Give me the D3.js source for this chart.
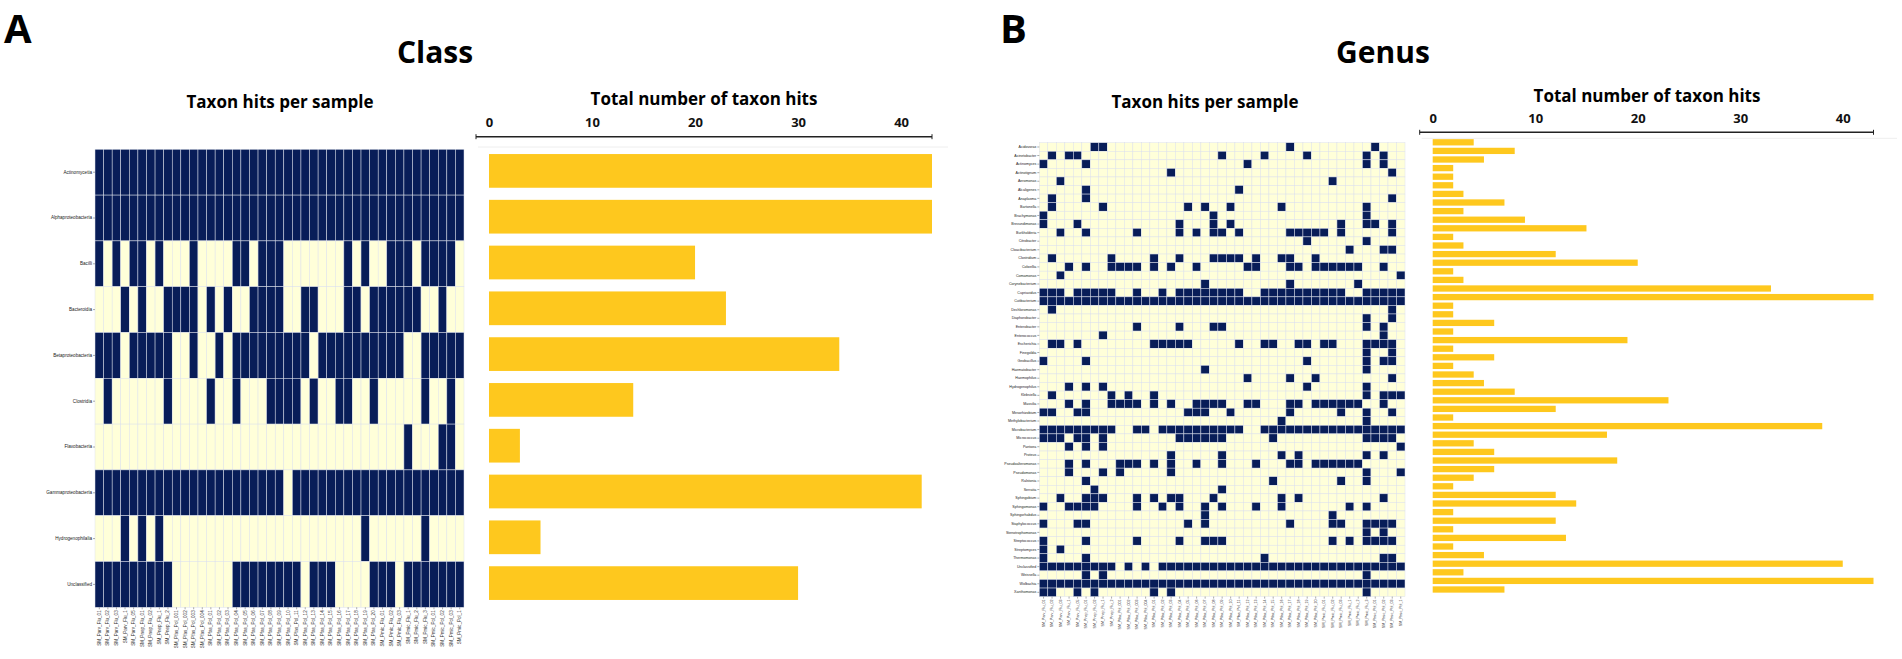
<!DOCTYPE html>
<html>
<head>
<meta charset="utf-8">
<script src="https://cdn.jsdelivr.net/npm/d3@7"></script>
<style>
body { margin: 0; background: #fff; }
svg { display: block; }
</style>
</head>
<body>
<svg width="1902" height="659"></svg>
<script>
// sample names (columns of both heatmaps)
const samples = [
  "SM_Parv_Flu_01","SM_Parv_Flu_02","SM_Parv_Flu_03","SM_Parv_Flu_1","SM_Parv_Flu_05",
  "SM_Pnep_Flu_01","SM_Pnep_Flu_02","SM_Pnep_Flu_1","SM_Pnep_Flu_2",
  "SM_Pfas_Pol_001","SM_Pfas_Pol_002","SM_Pfas_Pol_003","SM_Pfas_Pol_004",
  "SM_Pfas_Pol_01","SM_Pfas_Pol_02","SM_Pfas_Pol_03","SM_Pfas_Pol_04","SM_Pfas_Pol_05",
  "SM_Pfas_Pol_06","SM_Pfas_Pol_07","SM_Pfas_Pol_08","SM_Pfas_Pol_09","SM_Pfas_Pol_10",
  "SM_Pfas_Pol_11","SM_Pfas_Pol_12","SM_Pfas_Pol_13","SM_Pfas_Pol_14","SM_Pfas_Pol_15",
  "SM_Pfas_Pol_16","SM_Pfas_Pol_17","SM_Pfas_Pol_18","SM_Pfas_Pol_19","SM_Pfas_Pol_20",
  "SM_Pmic_Flu_01","SM_Pmic_Flu_02","SM_Pmic_Flu_03","SM_Pmic_Flu_1","SM_Pmic_Flu_2",
  "SM_Pmic_Flu_3","SM_Pmic_Pol_01","SM_Pmic_Pol_02","SM_Pmic_Pol_03","SM_Pmic_Pol_1"
];

const hitTicks = [0, 10, 20, 30, 40];

// class level: names + indices of samples with a hit
const classNames = ["Actinomycetia","Alphaproteobacteria","Bacilli","Bacteroidia","Betaproteobacteria",
  "Clostridia","Flavobacteria","Gammaproteobacteria","Hydrogenophilalia","Unclassified"];
const classHits = [
  [0,1,2,3,4,5,6,7,8,9,10,11,12,13,14,15,16,17,18,19,20,21,22,23,24,25,26,27,28,29,30,31,32,33,34,35,36,37,38,39,40,41,42],
  [0,1,2,3,4,5,6,7,8,9,10,11,12,13,14,15,16,17,18,19,20,21,22,23,24,25,26,27,28,29,30,31,32,33,34,35,36,37,38,39,40,41,42],
  [0,2,4,5,7,11,16,17,19,20,21,29,31,34,35,36,38,39,40,41],
  [3,5,8,9,10,11,13,15,18,19,20,21,24,25,29,30,32,33,34,35,36,37,40],
  [0,1,2,4,5,6,7,8,11,14,16,17,18,19,20,21,22,23,24,26,27,28,29,30,31,32,33,34,35,38,39,40,41,42],
  [1,8,13,16,20,21,22,23,25,28,29,32,38,41],
  [36,40,41],
  [0,1,2,3,4,5,6,7,8,9,10,11,12,13,14,15,16,17,18,19,20,21,23,24,25,26,27,28,29,30,31,32,33,34,35,36,37,38,39,40,41,42],
  [3,5,7,31,38],
  [0,1,2,3,4,5,6,7,8,16,17,18,19,20,21,22,23,25,26,27,32,33,34,36,37,38,39,40,41,42]
];

// genus level
const genusNames = ["Acidovorax","Acinetobacter","Actinomyces","Actinotignum","Aeromonas","Alcaligenes",
  "Anaplasma","Bartonella","Brachymonas","Brevundimonas","Burkholderia","Citrobacter","Cloacibacterium",
  "Clostridium","Colwellia","Comamonas","Corynebacterium","Cupriavidus","Cutibacterium","Dechloromonas",
  "Diaphorobacter","Enterobacter","Enterococcus","Escherichia","Finegoldia","Geobacillus","Haematobacter",
  "Haemophilus","Hydrogenophilus","Klebsiella","Massilia","Mesorhizobium","Methylobacterium",
  "Microbacterium","Micrococcus","Pantoea","Proteus","Pseudoalteromonas","Pseudomonas","Ralstonia",
  "Serratia","Sphingobium","Sphingomonas","Sphingorhabdus","Staphylococcus","Stenotrophomonas",
  "Streptococcus","Streptomyces","Thermomonas","Unclassified","Weissella","Wolbachia","Xanthomonas"];
const genusHits = [
  [6,7,29,39],
  [1,3,4,21,26,31,38,40],
  [0,5,24,38,40],
  [15,41],
  [2,34],
  [5,23],
  [1,5,41],
  [1,7,17,19,22,28,38],
  [0,20,38],
  [0,4,16,20,22,35,38,39,41],
  [2,5,11,16,18,20,21,23,29,30,31,32,33,35,41],
  [31,38],
  [36,40,41],
  [1,8,13,16,20,21,22,23,25,28,29,32],
  [3,5,8,9,10,11,13,15,18,24,25,29,30,32,33,34,35,36,37,40],
  [2,42],
  [19,29,37],
  [0,1,2,4,5,6,7,8,11,14,16,17,18,19,20,21,22,23,26,27,28,29,30,31,32,33,34,35,38,39,40,41,42],
  [0,1,2,3,4,5,6,7,8,9,10,11,12,13,14,15,16,17,18,19,20,21,22,23,24,25,26,27,28,29,30,31,32,33,34,35,36,37,38,39,40,41,42],
  [1,41],
  [38,41],
  [11,16,20,21,38,40],
  [7,40],
  [1,2,4,13,14,15,16,17,23,26,27,30,31,33,34,38,39,40,41],
  [38,41],
  [0,5,31,38,40,41],
  [19,38],
  [24,29,32,41],
  [3,5,7,31,38],
  [1,8,10,13,38,40,41,42],
  [3,5,8,9,10,11,13,15,18,19,20,21,24,25,29,30,32,33,34,35,36,37,40],
  [0,1,4,5,17,18,19,22,29,35,38,41],
  [28,38],
  [0,1,2,3,4,5,6,7,8,11,12,14,15,16,17,18,19,20,21,22,23,26,27,28,29,30,31,32,33,34,35,36,37,38,39,40,41,42],
  [0,1,2,4,5,7,16,17,18,19,20,21,27,38,39,40,41],
  [3,5,7,42],
  [15,21,28,30,38,40],
  [3,5,9,10,11,13,15,18,21,25,29,30,32,33,34,35,36,37],
  [3,7,9,15,38,42],
  [5,27,35,38],
  [6,21],
  [2,5,6,7,11,13,15,16,20,28,30,40],
  [0,3,4,5,6,11,14,16,19,21,25,28,36,38],
  [19,34],
  [0,4,5,17,19,29,34,35,38,39,40,41],
  [38,40],
  [0,5,11,16,19,20,21,34,36,38,39,40,41],
  [0,2],
  [0,5,26,40,41],
  [0,1,2,3,4,5,6,7,8,10,12,14,15,16,17,18,19,20,21,22,23,24,25,26,27,28,29,30,31,32,33,34,35,36,37,38,39,40,41,42],
  [5,7,38],
  [0,1,2,3,4,5,6,7,8,9,10,11,12,13,14,15,16,17,18,19,20,21,22,23,24,25,26,27,28,29,30,31,32,33,34,35,36,37,38,39,40,41,42],
  [0,1,4,6,13,15,38]
];

//colours
const navy = '#081d58';
const cream = '#ffffd9';
const gold = '#fec81e';
const titleFont = "'Open Sans', 'Noto Sans', sans-serif";
const smallFont = "'Liberation Sans', Arial, sans-serif";

const svg = d3.select('svg');

//layout of the two panels
const panels = [
  { letter: 'A', lx: 4, title: 'Class', tx: 435,
    names: classNames, hits: classHits,
    hx0: 95, hx1: 464, hy0: 149.3, hy1: 607.3, fs: 4.6,
    bx0: 489, bx1: 932, by0: 148, by1: 606, pad: 0.264,
    axisY: 136.7, tickPad: 9.7, lineY: 147, lineX1: 948,
    sub1x: 280, sub1y: 108, sub2x: 704, sub2y: 105 },
  { letter: 'B', lx: 1000, title: 'Genus', tx: 1383,
    names: genusNames, hits: genusHits,
    hx0: 1039.3, hx1: 1405, hy0: 142.7, hy1: 596.6, fs: 3.6,
    bx0: 1432.7, bx1: 1873.5, by0: 138, by1: 593.8, pad: 0.27,
    axisY: 132.3, tickPad: 9.3, lineY: 138.3, lineX1: 1897,
    sub1x: 1205, sub1y: 108, sub2x: 1647, sub2y: 102 }
];

const drawPanel = (p) => {
  const g = svg.append('g');

  g.append('text').attr('x', p.lx).attr('y', 43)
    .attr('font-family', titleFont).attr('font-weight', 700).attr('font-size', 40)
    .text(p.letter);
  g.append('text').attr('x', p.tx).attr('y', 63).attr('text-anchor', 'middle')
    .attr('font-family', titleFont).attr('font-weight', 700).attr('font-size', 30)
    .text(p.title);
  g.append('text').attr('x', p.sub1x).attr('y', p.sub1y).attr('text-anchor', 'middle')
    .attr('font-family', titleFont).attr('font-weight', 700).attr('font-size', 17)
    .text('Taxon hits per sample');
  g.append('text').attr('x', p.sub2x).attr('y', p.sub2y).attr('text-anchor', 'middle')
    .attr('font-family', titleFont).attr('font-weight', 700).attr('font-size', 17)
    .text('Total number of taxon hits');

  //heatmap
  const x = d3.scaleBand().domain(d3.range(samples.length)).range([p.hx0, p.hx1]);
  const y = d3.scaleBand().domain(p.names).range([p.hy0, p.hy1]);

  let cells = [];
  p.names.forEach((n, i) => {
    const on = new Set(p.hits[i]);
    samples.forEach((s, j) => cells.push({ n: n, j: j, on: on.has(j) }));
  });

  g.append('g').selectAll('rect').data(cells).enter()
    .append('rect')
    .attr('x', d => x(d.j))
    .attr('y', d => y(d.n))
    .attr('width', x.bandwidth())
    .attr('height', y.bandwidth())
    .attr('fill', d => d.on ? navy : cream)
    .attr('stroke', '#dde1ec')
    .attr('stroke-width', 0.5);

  const ya = g.append('g').attr('transform', `translate(${p.hx0},0)`)
    .call(d3.axisLeft(y).tickSize(2).tickPadding(1));
  ya.select('.domain').remove();
  ya.selectAll('line').attr('stroke', '#555').attr('stroke-width', 0.5);
  ya.selectAll('text').attr('font-size', p.fs).attr('font-family', smallFont).attr('fill', '#222');

  const xa = g.append('g').attr('transform', `translate(0,${p.hy1})`)
    .call(d3.axisBottom(x).tickFormat(i => samples[i]).tickSize(2).tickPadding(1));
  xa.select('.domain').remove();
  xa.selectAll('line').attr('stroke', '#555').attr('stroke-width', 0.5);
  xa.selectAll('text')
    .attr('font-size', p.fs).attr('font-family', smallFont).attr('fill', '#333')
    .attr('transform', 'rotate(-90)')
    .attr('text-anchor', 'end')
    .attr('x', -3).attr('y', 0).attr('dy', '0.32em');

  //bars
  const xb = d3.scaleLinear().domain([0, samples.length]).range([p.bx0, p.bx1]);
  const yb = d3.scaleBand().domain(p.names).range([p.by0, p.by1])
    .paddingInner(p.pad).paddingOuter(p.pad / 2);

  g.append('line').attr('x1', p.bx0 - 11).attr('x2', p.lineX1)
    .attr('y1', p.lineY).attr('y2', p.lineY)
    .attr('stroke', '#eeeeee').attr('stroke-width', 1);

  g.append('g').selectAll('rect').data(p.names).enter()
    .append('rect')
    .attr('x', xb(0))
    .attr('y', d => yb(d))
    .attr('width', (d, i) => xb(p.hits[i].length) - xb(0))
    .attr('height', yb.bandwidth())
    .attr('fill', gold);

  const ax = g.append('g').attr('transform', `translate(0,${p.axisY})`)
    .call(d3.axisTop(xb).tickValues(hitTicks).tickSize(0).tickPadding(p.tickPad));
  ax.select('.domain').remove();
  ax.selectAll('text').attr('font-size', 13).attr('font-weight', 700)
    .attr('font-family', titleFont).attr('fill', '#111');

  const a0 = xb(0) - 13, a1 = xb(samples.length);
  g.append('line').attr('x1', a0).attr('x2', a1).attr('y1', p.axisY).attr('y2', p.axisY)
    .attr('stroke', '#222').attr('stroke-width', 1.4);
  [a0, a1].forEach(ex => {
    g.append('line').attr('x1', ex).attr('x2', ex).attr('y1', p.axisY - 2.5).attr('y2', p.axisY + 2.5)
      .attr('stroke', '#222').attr('stroke-width', 1);
  });
};

panels.forEach(drawPanel);
</script>
</body>
</html>
